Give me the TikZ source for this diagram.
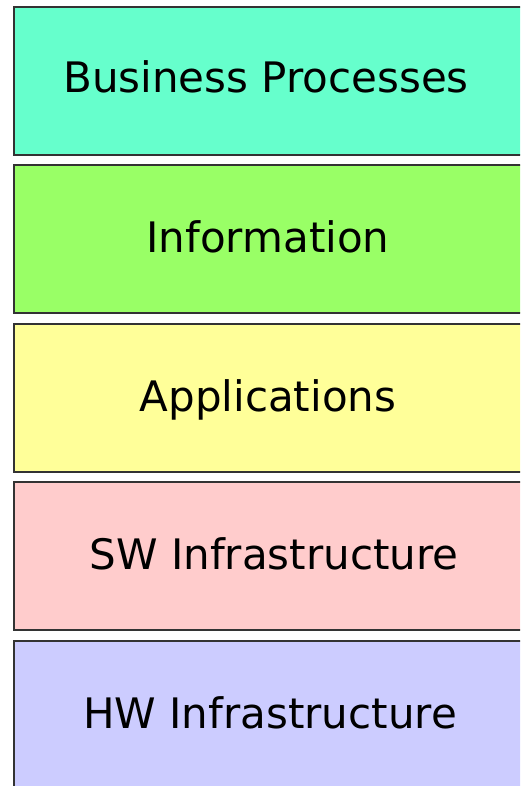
\documentclass[tikz,border=0pt]{standalone}
\usepackage{fontspec}
\setmainfont{DejaVu Sans}
\definecolor{cbp}{RGB}{102,255,204}
\definecolor{cinf}{RGB}{153,255,102}
\definecolor{capp}{RGB}{255,255,153}
\definecolor{csw}{RGB}{255,204,204}
\definecolor{chw}{RGB}{204,204,255}
\definecolor{edge}{RGB}{51,51,51}
\tikzset{
  layer/.style={draw=edge, line width=1.5pt},
  lbl/.style={anchor=base, inner sep=0pt, font=\fontsize{42}{50}\selectfont}
}
\begin{document}
\begin{tikzpicture}[x=1pt,y=-1pt]
\useasboundingbox (0,0) rectangle (520,786);
\begin{scope}
\clip (0,0) rectangle (520,786);
\filldraw[layer, fill=cbp]  (14,7)   rectangle (530,155);
\filldraw[layer, fill=cinf] (14,165) rectangle (530,313);
\filldraw[layer, fill=capp] (14,324) rectangle (530,472);
\filldraw[layer, fill=csw]  (14,482) rectangle (530,630);
\filldraw[layer, fill=chw]  (14,641) rectangle (530,800);
\end{scope}
\node[lbl] (bp)  at (266,93)  {Business Processes};
\node[lbl] (inf) at (268,252) {Information};
\node[lbl] (app) at (268,411) {Applications};
\node[lbl] (sw)  at (274,569) {SW Infrastructure};
\node[lbl] (hw)  at (270,728) {HW Infrastructure};
\end{tikzpicture}
\end{document}
